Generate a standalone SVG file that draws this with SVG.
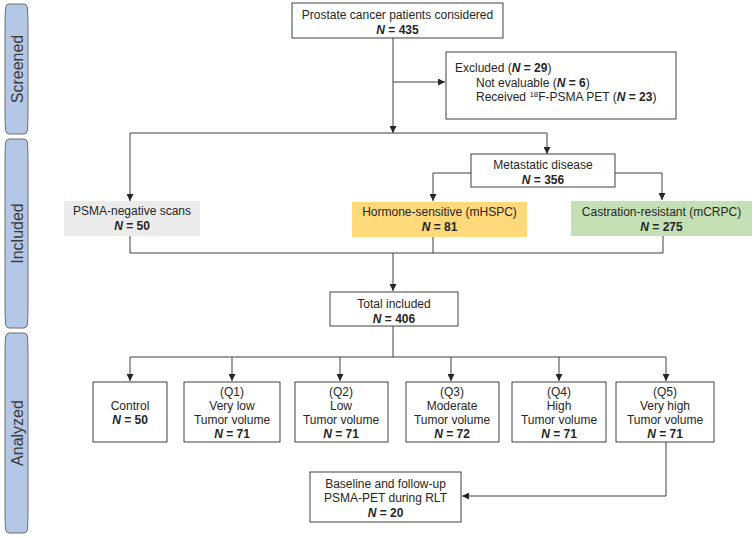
<svg xmlns="http://www.w3.org/2000/svg" width="756" height="538" viewBox="0 0 756 538">
<defs>
<style>
.bg{fill:#ffffff}
.pill{fill:#b4c7e7;stroke:#6f6f6f;stroke-width:1}
.side{font-family:"Liberation Sans",Arial,sans-serif;font-size:16px;fill:#3a3a3a;text-anchor:middle}
.box{fill:#ffffff;stroke:#404040;stroke-width:1}
.t{font-family:"Liberation Sans",Arial,sans-serif;font-size:12px;fill:#262626;text-anchor:middle}
.tl{font-family:"Liberation Sans",Arial,sans-serif;font-size:12px;fill:#262626}
.b{font-weight:bold}
.bi{font-weight:bold;font-style:italic}
.ln{fill:none;stroke:#404040;stroke-width:1}
</style>
<marker id="ah" viewBox="0 0 8 8" refX="8" refY="4" markerWidth="7" markerHeight="7" markerUnits="userSpaceOnUse" orient="auto">
<path d="M0,0 L8,4 L0,8 z" fill="#262626"/>
</marker>
</defs>
<rect class="bg" x="0" y="0" width="756" height="538"/>

<g id="stage-screened">
<path class="pill" d="M9,4 H24 Q27,4 27.5,8 Q28,16 28,28 V110 Q28,122 27.5,130 Q27,134 24,134 H9 Q6,134 5.5,130 Q5,122 5,110 V28 Q5,16 5.5,8 Q6,4 9,4 Z"/>
<text class="side" transform="translate(22.5,69) rotate(-90)">Screened</text>
</g>
<g id="stage-included">
<path class="pill" d="M9,139 H24 Q27,139 27.5,143 Q28,151 28,163 V304 Q28,316 27.5,324 Q27,328 24,328 H9 Q6,328 5.5,324 Q5,316 5,304 V163 Q5,151 5.5,143 Q6,139 9,139 Z"/>
<text class="side" transform="translate(22.5,233.5) rotate(-90)">Included</text>
</g>
<g id="stage-analyzed">
<path class="pill" d="M9,333 H24 Q27,333 27.5,337 Q28,345 28,357 V509 Q28,521 27.5,529 Q27,533 24,533 H9 Q6,533 5.5,529 Q5,521 5,509 V357 Q5,345 5.5,337 Q6,333 9,333 Z"/>
<text class="side" transform="translate(22.5,433) rotate(-90)">Analyzed</text>
</g>

<g id="connectors">
<path class="ln" d="M393,38 V133" marker-end="url(#ah)"/>
<path class="ln" d="M393,82 H445" marker-end="url(#ah)"/>
<path class="ln" d="M130,133 H547 V154" marker-end="url(#ah)"/>
<path class="ln" d="M130,133 V201" marker-end="url(#ah)"/>
<path class="ln" d="M471,173 H433 V201" marker-end="url(#ah)"/>
<path class="ln" d="M615,173 H662 V200" marker-end="url(#ah)"/>
<path class="ln" d="M130,236 V253 H663 V236"/>
<path class="ln" d="M433,237 V253"/>
<path class="ln" d="M393,253 V291" marker-end="url(#ah)"/>
<path class="ln" d="M393,326 V357"/>
<path class="ln" d="M130,357 H666 V381" marker-end="url(#ah)"/>
<path class="ln" d="M130,357 V381" marker-end="url(#ah)"/>
<path class="ln" d="M232,357 V381" marker-end="url(#ah)"/>
<path class="ln" d="M340,357 V381" marker-end="url(#ah)"/>
<path class="ln" d="M451,357 V381" marker-end="url(#ah)"/>
<path class="ln" d="M559,357 V381" marker-end="url(#ah)"/>
<path class="ln" d="M666,442 V496 H462" marker-end="url(#ah)"/>
</g>

<g id="considered">
<rect class="box" x="292" y="3" width="211" height="35"/>
<text class="t" x="397.5" y="19">Prostate cancer patients considered</text>
<text class="t b" x="397.5" y="34"><tspan class="bi">N</tspan> = 435</text>
</g>

<g id="excluded">
<rect class="box" x="446" y="52" width="230" height="67"/>
<text class="tl" x="455" y="72">Excluded (<tspan class="bi">N</tspan><tspan class="b"> = 29</tspan>)</text>
<text class="tl" x="476" y="87">Not evaluable (<tspan class="bi">N</tspan><tspan class="b"> = 6</tspan>)</text>
<text class="tl" x="476" y="101">Received <tspan font-size="8" dy="-4">18</tspan><tspan dy="4">F-PSMA PET (</tspan><tspan class="bi">N</tspan><tspan class="b"> = 23</tspan>)</text>
</g>

<g id="metastatic">
<rect class="box" x="471" y="154" width="144" height="33"/>
<text class="t" x="543" y="169">Metastatic disease</text>
<text class="t b" x="543" y="184"><tspan class="bi">N</tspan> = 356</text>
</g>

<g id="psma-negative">
<rect x="64" y="201" width="136" height="35" fill="#ebebeb"/>
<text class="t" x="132" y="215">PSMA-negative scans</text>
<text class="t b" x="132" y="230"><tspan class="bi">N</tspan> = 50</text>
</g>

<g id="mhspc">
<rect x="352" y="202" width="175" height="35" fill="#ffd97a"/>
<text class="t" x="439.5" y="216">Hormone-sensitive (mHSPC)</text>
<text class="t b" x="439.5" y="231"><tspan class="bi">N</tspan> = 81</text>
</g>

<g id="mcrpc">
<rect x="571" y="201" width="181" height="35" fill="#c5e0b4"/>
<text class="t" x="661.5" y="216">Castration-resistant (mCRPC)</text>
<text class="t b" x="661.5" y="231"><tspan class="bi">N</tspan> = 275</text>
</g>

<g id="total">
<rect class="box" x="330" y="292" width="128" height="34"/>
<text class="t" x="394" y="308">Total included</text>
<text class="t b" x="394" y="323"><tspan class="bi">N</tspan> = 406</text>
</g>

<g id="control">
<rect class="box" x="93" y="382" width="74" height="60"/>
<text class="t" x="130" y="410">Control</text>
<text class="t b" x="130" y="424"><tspan class="bi">N</tspan> = 50</text>
</g>

<g id="q1">
<rect class="box" x="184" y="382" width="96" height="60"/>
<text class="t" x="232" y="396">(Q1)</text>
<text class="t" x="232" y="410">Very low</text>
<text class="t" x="232" y="424">Tumor volume</text>
<text class="t b" x="232" y="438"><tspan class="bi">N</tspan> = 71</text>
</g>

<g id="q2">
<rect class="box" x="295" y="382" width="93" height="60"/>
<text class="t" x="341" y="396">(Q2)</text>
<text class="t" x="341" y="410">Low</text>
<text class="t" x="341" y="424">Tumor volume</text>
<text class="t b" x="341" y="438"><tspan class="bi">N</tspan> = 71</text>
</g>

<g id="q3">
<rect class="box" x="406" y="382" width="93" height="60"/>
<text class="t" x="452" y="396">(Q3)</text>
<text class="t" x="452" y="410">Moderate</text>
<text class="t" x="452" y="424">Tumor volume</text>
<text class="t b" x="452" y="438"><tspan class="bi">N</tspan> = 72</text>
</g>

<g id="q4">
<rect class="box" x="512" y="382" width="94" height="60"/>
<text class="t" x="559" y="396">(Q4)</text>
<text class="t" x="559" y="410">High</text>
<text class="t" x="559" y="424">Tumor volume</text>
<text class="t b" x="559" y="438"><tspan class="bi">N</tspan> = 71</text>
</g>

<g id="q5">
<rect class="box" x="616" y="382" width="98" height="60"/>
<text class="t" x="665" y="396">(Q5)</text>
<text class="t" x="665" y="410">Very high</text>
<text class="t" x="665" y="424">Tumor volume</text>
<text class="t b" x="665" y="438"><tspan class="bi">N</tspan> = 71</text>
</g>

<g id="followup">
<rect class="box" x="310" y="472" width="151" height="50"/>
<text class="t" x="385.5" y="488">Baseline and follow-up</text>
<text class="t" x="385.5" y="502">PSMA-PET during RLT</text>
<text class="t b" x="385.5" y="517"><tspan class="bi">N</tspan> = 20</text>
</g>
</svg>
